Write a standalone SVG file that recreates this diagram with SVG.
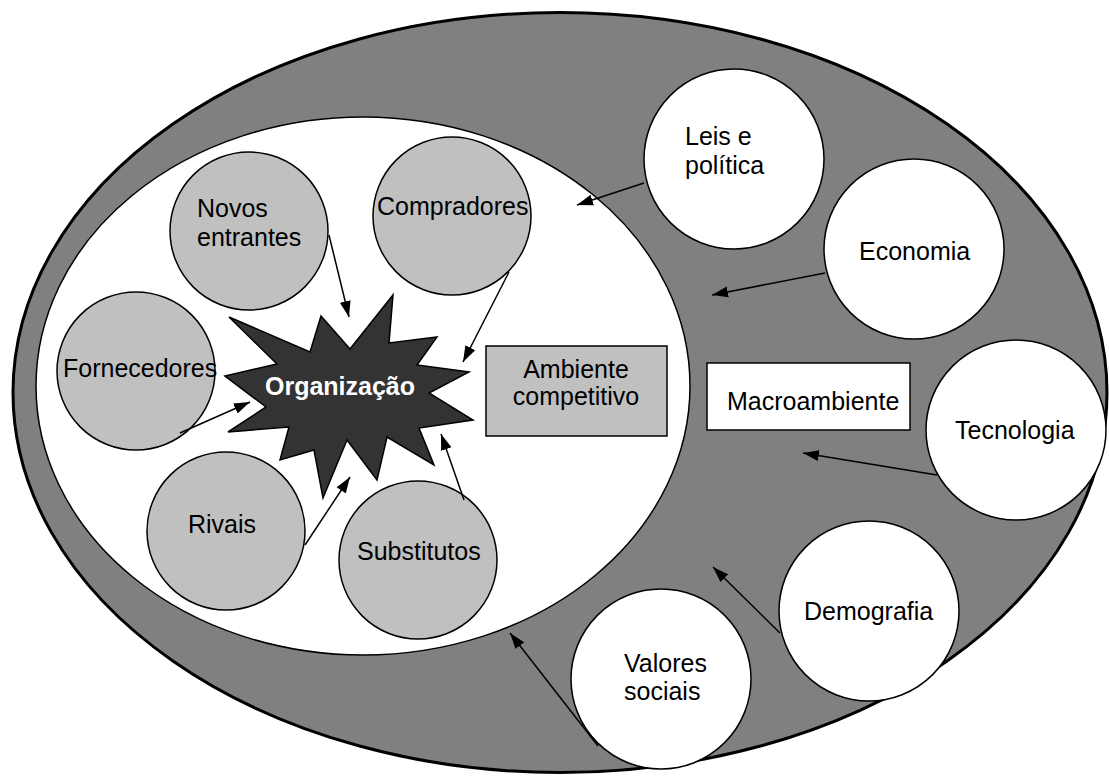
<svg xmlns="http://www.w3.org/2000/svg" width="1109" height="776" viewBox="0 0 1109 776">
  <style>
    text { font-family: "Liberation Sans", Arial, sans-serif; font-size: 25px; fill: #000; }
    .force { fill: #c0c0c0; stroke: #000; stroke-width: 1.5; }
    .macro { fill: #fff; stroke: #000; stroke-width: 1.5; }
    .conn { stroke: #000; stroke-width: 1.5; fill: none; marker-end: url(#arrow); }
    .mid { text-anchor: middle; }
  </style>
  <defs>
    <marker id="arrow" markerUnits="userSpaceOnUse" markerWidth="17" markerHeight="12" refX="16" refY="6" orient="auto">
      <path d="M0,0.5 L16,6 L0,11.5 z" fill="#000"/>
    </marker>
  </defs>

  <rect width="1109" height="776" fill="#fff"/>

  <!-- macro environment ring -->
  <g id="macroambiente-area">
    <ellipse cx="560" cy="392.5" rx="547" ry="380" fill="#808080" stroke="#000" stroke-width="3"/>
  </g>

  <!-- competitive environment -->
  <g id="ambiente-competitivo-area">
    <ellipse cx="363" cy="386" rx="327" ry="269" fill="#fff" stroke="#000" stroke-width="1.5"/>
  </g>

  <!-- competitive forces -->
  <g id="novos-entrantes">
    <circle class="force" cx="249" cy="231" r="79"/>
    <text x="197" y="217">Novos</text>
    <text x="197" y="246">entrantes</text>
  </g>
  <g id="compradores">
    <circle class="force" cx="452" cy="216" r="79"/>
    <text x="377" y="215">Compradores</text>
  </g>
  <g id="fornecedores">
    <circle class="force" cx="136" cy="371" r="79"/>
    <text x="63" y="377">Fornecedores</text>
  </g>
  <g id="rivais">
    <circle class="force" cx="226" cy="531" r="79"/>
    <text x="188" y="533">Rivais</text>
  </g>
  <g id="substitutos">
    <circle class="force" cx="418" cy="560" r="79"/>
    <text x="357" y="560">Substitutos</text>
  </g>

  <!-- the organization -->
  <g id="organizacao">
    <polygon points="225,376 277,364 229,317 310,352 321,316 350,349 393,295 389,343 437,337 417,365 469,372 429,393 473,420 419,428 434,465 387,437 377,480 347,440 323,498 314,450 280,460 289,427 228,432 266,407" fill="#333" stroke="#000" stroke-width="1.5" stroke-linejoin="miter"/>
    <text x="340" y="395" class="mid" style="font-weight:bold; fill:#fff">Organização</text>
  </g>

  <g id="ambiente-competitivo">
    <rect x="486" y="346" width="181" height="90" fill="#c0c0c0" stroke="#000" stroke-width="1.5"/>
    <text x="576" y="378" class="mid">Ambiente</text>
    <text x="576" y="405" class="mid">competitivo</text>
  </g>

  <g id="macroambiente">
    <rect x="707" y="363" width="203" height="67" fill="#fff" stroke="#000" stroke-width="1.5"/>
    <text x="727" y="410">Macroambiente</text>
  </g>

  <!-- macro-environment forces -->
  <g id="leis-politica">
    <circle class="macro" cx="734" cy="159" r="90"/>
    <text x="685" y="145">Leis e</text>
    <text x="685" y="174">política</text>
  </g>
  <g id="economia">
    <circle class="macro" cx="914" cy="249" r="90"/>
    <text x="859" y="260">Economia</text>
  </g>
  <g id="tecnologia">
    <circle class="macro" cx="1016" cy="430" r="90"/>
    <text x="955" y="439">Tecnologia</text>
  </g>
  <g id="demografia">
    <circle class="macro" cx="869" cy="611" r="90"/>
    <text x="804" y="620">Demografia</text>
  </g>
  <g id="valores-sociais">
    <circle class="macro" cx="661" cy="679" r="90"/>
    <text x="624" y="672">Valores</text>
    <text x="624" y="700">sociais</text>
  </g>

  <!-- connectors -->
  <g id="connectors">
    <line class="conn" x1="329" y1="235" x2="349" y2="317"/>
    <line class="conn" x1="509" y1="272" x2="463" y2="362"/>
    <line class="conn" x1="180" y1="433" x2="250" y2="402"/>
    <line class="conn" x1="305" y1="545" x2="350" y2="477"/>
    <line class="conn" x1="464" y1="500" x2="441" y2="434"/>
    <line class="conn" x1="644" y1="183" x2="577" y2="205"/>
    <line class="conn" x1="825" y1="273" x2="712" y2="295"/>
    <line class="conn" x1="937" y1="475" x2="803" y2="453"/>
    <line class="conn" x1="780" y1="633" x2="713" y2="567"/>
    <line class="conn" x1="598" y1="746" x2="510" y2="633"/>
  </g>
</svg>
